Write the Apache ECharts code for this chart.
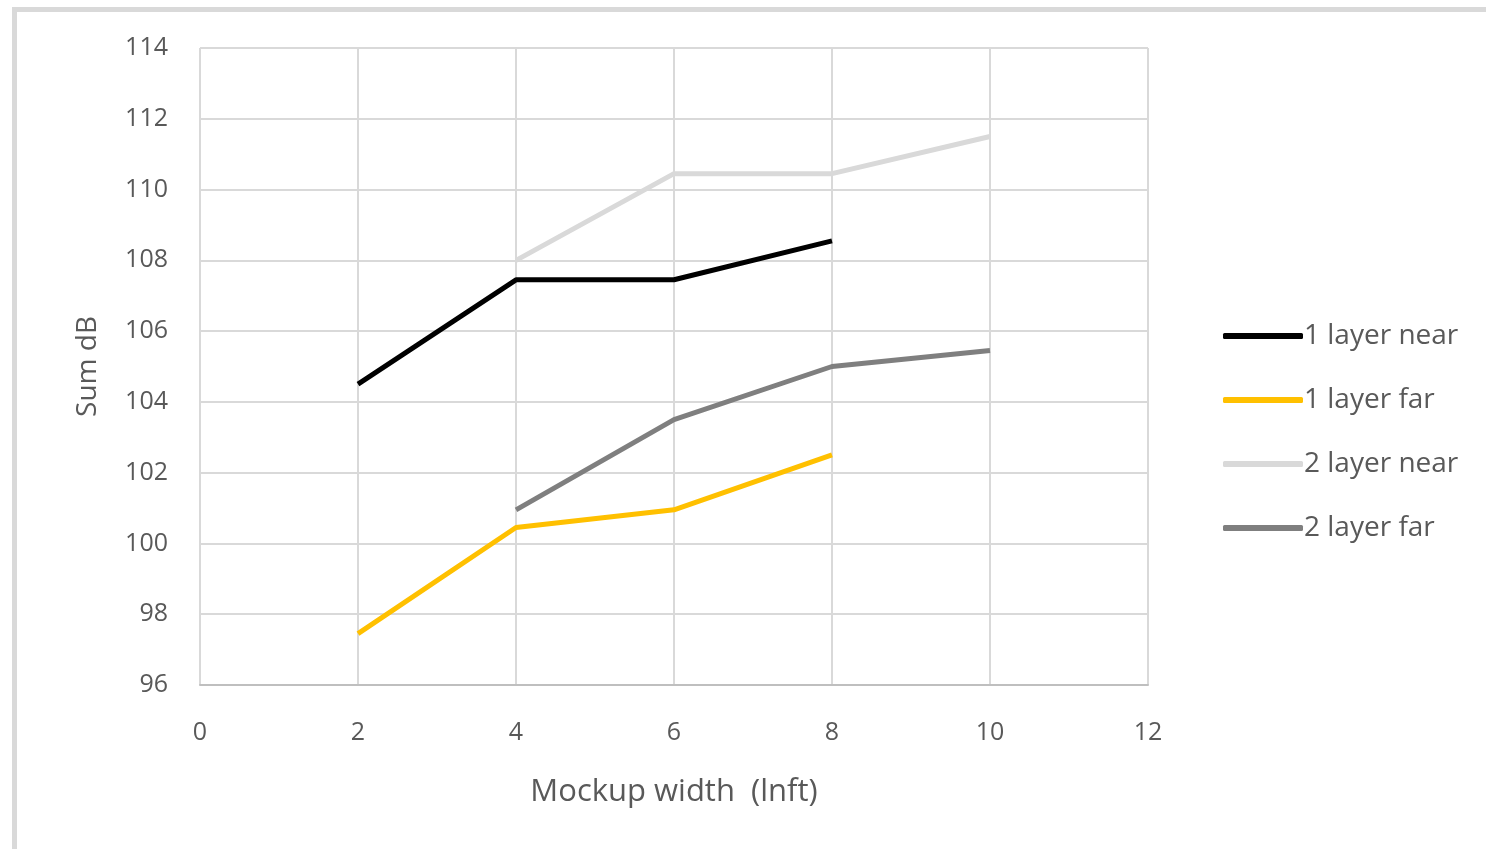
<!DOCTYPE html>
<html>
<head>
<meta charset="utf-8">
<script src="https://cdn.jsdelivr.net/npm/echarts@6/dist/echarts.min.js"></script>
<style>
  html, body { margin: 0; padding: 0; background: #fff; }
  #frame {
    position: absolute; left: 12px; top: 7px; width: 1480px; height: 838px;
    border-left: 5px solid #d9d9d9; border-top: 5px solid #d9d9d9; border-bottom: 2px solid #eeeeee;
  }
  #chart { position: absolute; left: 0; top: 0; width: 1486px; height: 849px; }
</style>
</head>
<body>
<div id="frame"></div>
<div id="chart"></div>
<script>
// x values (Mockup width, lnft)
const widths = [2, 4, 6, 8, 10];
// Sum dB per series (null where there is no point)
const oneLayerNear = [104.5, 107.45, 107.45, 108.55, null];
const oneLayerFar = [97.45, 100.45, 100.95, 102.5, null];
const twoLayerNear = [null, 108.0, 110.45, 110.45, 111.5];
const twoLayerFar = [null, 100.95, 103.5, 105.0, 105.45];

const seriesNames = ['1 layer near', '1 layer far', '2 layer near', '2 layer far'];
const seriesColors = ['#000000', '#ffc000', '#d9d9d9', '#7f7f7f'];
const seriesValues = [oneLayerNear, oneLayerFar, twoLayerNear, twoLayerFar];

const pairs = (vals) => widths.map((w, i) => [w, vals[i]]).filter(p => p[1] !== null);

const myChart = echarts.init(document.getElementById('chart'));
const labelFont = "'Open Sans', 'Liberation Sans', sans-serif";

const option = {
  animation: false,
  grid: { left: 200, top: 48, width: 948, height: 637, containLabel: false },
  legend: {
    orient: 'vertical',
    left: 1218,
    top: 317,
    itemWidth: 80,
    itemHeight: 6,
    itemGap: 36,
    icon: 'roundRect',
    textStyle: { color: '#595959', fontSize: 28, fontFamily: labelFont, padding: [0, 0, 0, -4] },
    data: seriesNames
  },
  xAxis: {
    type: 'value',
    min: 0, max: 12, interval: 2,
    name: 'Mockup width  (lnft)',
    nameLocation: 'middle',
    nameGap: 92,
    nameTextStyle: { color: '#595959', fontSize: 31, fontFamily: labelFont },
    axisLine: { show: true, lineStyle: { color: '#bfbfbf', width: 2 } },
    axisTick: { show: false },
    axisLabel: { color: '#595959', fontSize: 25, fontFamily: labelFont, margin: 35 },
    splitLine: { show: true, lineStyle: { color: '#d9d9d9', width: 2 } }
  },
  yAxis: {
    type: 'value',
    min: 96, max: 114, interval: 2,
    name: 'Sum dB',
    nameLocation: 'middle',
    nameGap: 98,
    nameTextStyle: { color: '#595959', fontSize: 28, fontFamily: labelFont },
    axisLine: { show: false },
    axisTick: { show: false },
    axisLabel: { color: '#595959', fontSize: 25, fontFamily: labelFont, margin: 32 },
    splitLine: { show: true, lineStyle: { color: '#d9d9d9', width: 2 } }
  },
  series: seriesNames.map((name, i) => ({
    name: name,
    type: 'line',
    data: pairs(seriesValues[i]),
    showSymbol: false,
    symbol: 'none',
    color: seriesColors[i],
    lineStyle: { color: seriesColors[i], width: 5 },
    itemStyle: { color: seriesColors[i] }
  }))
};

myChart.setOption(option);
</script>
</body>
</html>
